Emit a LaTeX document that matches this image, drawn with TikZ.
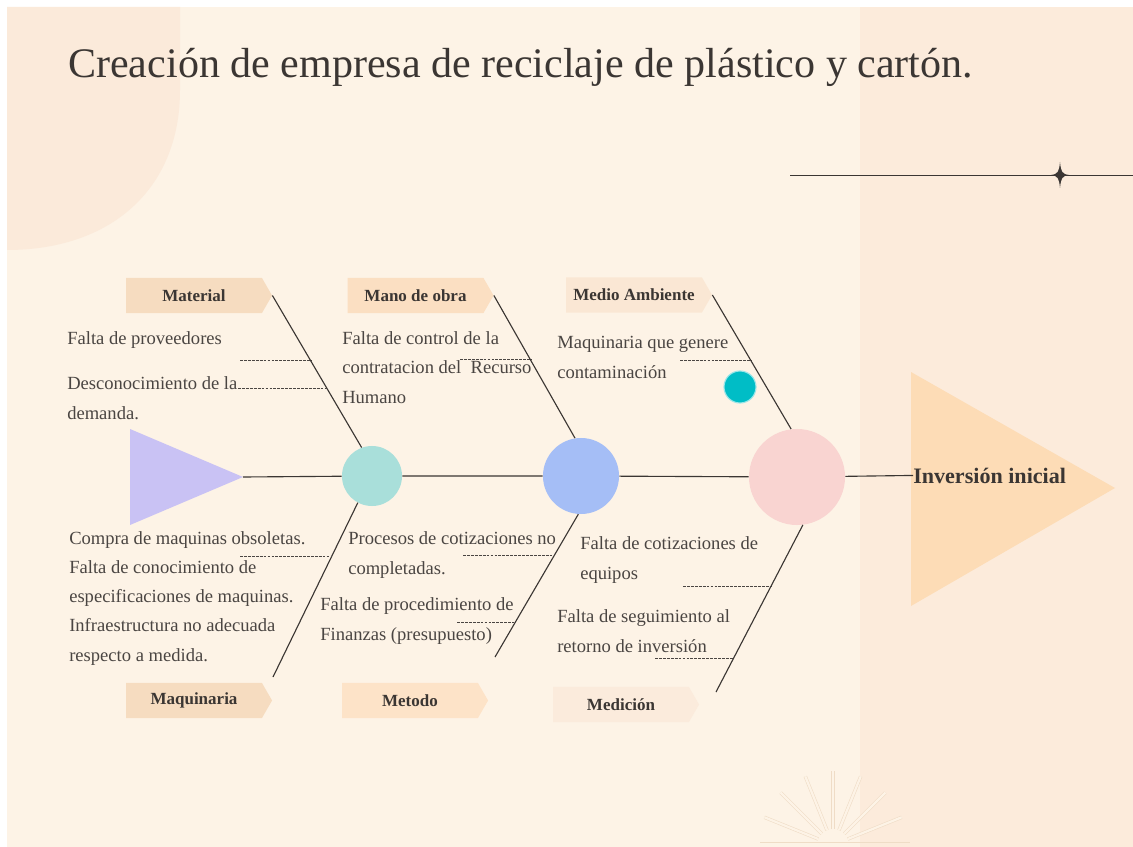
\documentclass[tikz,border=0pt]{standalone}
\usepackage{fontspec}
\setmainfont{Liberation Serif}
\usetikzlibrary{shapes.symbols}

\definecolor{fondo}{HTML}{FDF3E6}
\definecolor{panel}{HTML}{FCEBDB}
\definecolor{mancha}{HTML}{FBEADA}
\definecolor{tinta}{HTML}{3B3633}
\definecolor{gris}{HTML}{4A4542}
\definecolor{rayo}{HTML}{EFDCC6}
\definecolor{lila}{HTML}{C9C2F4}
\definecolor{durazno}{HTML}{FDDCB6}
\definecolor{menta}{HTML}{A9DFDA}
\definecolor{azul}{HTML}{A5BEF6}
\definecolor{rosa}{HTML}{F9D4D1}
\definecolor{turquesa}{HTML}{00BDC6}
\definecolor{arena}{HTML}{F6DCC0}
\definecolor{salmon}{HTML}{FBDFC2}
\definecolor{crema}{HTML}{FAE7D4}
\definecolor{melocoton}{HTML}{FDE3C8}
\definecolor{hueso}{HTML}{FBEBDC}

\begin{document}
\begin{tikzpicture}[x=0.025cm, y=-0.025cm,
		etiqueta/.style={shape=signal, signal to=east, signal pointer angle=120, fill=#1, minimum width=3.65cm, minimum height=0.875cm, inner sep=0pt, text=tinta, font=\fontsize{12.1}{14}\selectfont\bfseries},
		causa/.style={anchor=base west, inner sep=0pt, align=left, text=gris, font=\fontsize{13.2}{20.8}\selectfont},
		circulo/.style={circle, fill=#1, inner sep=0pt},
		espina/.style={draw=tinta, line width=0.8pt},
		guion/.style={draw=gris, line width=0.5pt, dash pattern=on 2pt off 0.8pt},
		rayo/.style={draw=rayo, line width=0.4pt, double=fondo, double distance=1.6pt}]

	\useasboundingbox (0,0) rectangle (1133,847);

	% fondo
	\fill[white] (0,0) rectangle (1133,847);
	\fill[fondo] (7,7) rectangle (1133,847);
	\fill[panel] (860,7) rectangle (1133,847);
	\fill[mancha] (7,7) -- (180,7) -- (180,90) .. controls (180,190) and (110,250) .. (7,250) -- cycle;

	% titulo
	\node[anchor=base west, inner sep=0pt, text=tinta, font=\fontsize{29.9}{36}\selectfont] (titulo) at (68,78) {Creación de empresa de reciclaje de plástico y cartón.};

	% linea con estrella
	\coordinate (estrella) at (1060,175);
	\draw[tinta, line width=0.6pt] (790,175) -- (1133,175);
	\fill[tinta] (1060,162) .. controls (1061,172) and (1062,174) .. (1069,175)
		.. controls (1062,176) and (1061,178) .. (1060,188)
		.. controls (1059,178) and (1058,176) .. (1051,175)
		.. controls (1058,174) and (1059,172) .. (1060,162) -- cycle;

	% rayos
	\coordinate (sol) at (833,845);
	\foreach \a in {22,45,68,90,112,135,158}
		\draw[rayo, shift={(sol)}] (-\a:16) -- (-\a:74);
	\draw[draw=rayo, line width=0.6pt] (760,842) -- (910,842);

	% cabeza y cola
	\fill[lila] (130,429) -- (130,525) -- (243,477) -- cycle;
	\fill[durazno] (911,372) -- (911,606) -- (1115,488) -- cycle;
	\coordinate (cola) at (243,477);

	% nodos
	\node[circulo=menta, minimum size=1.5cm] (c1) at (372,476) {};
	\node[circulo=azul, minimum size=1.9cm] (c2) at (581,476) {};
	\node[circulo=rosa, minimum size=2.4cm] (c3) at (797,477) {};
	\node[circle, fill=turquesa, draw=turquesa!40, line width=0.8pt, minimum size=0.8cm, inner sep=0pt] (punto) at (740,387) {};
	\node[anchor=base west, inner sep=0pt, text=tinta, font=\fontsize{15.7}{18}\selectfont\bfseries] (efecto) at (913,483) {Inversión inicial};

	% espina
	\draw[espina] (cola) -- (c1) (c1) -- (c2) (c2) -- (c3) (c3) -- (efecto.west);

	% etiquetas
	\node[etiqueta=arena] (material) at (194,295.5) {Material};
	\node[etiqueta=salmon] (mano) at (415.5,295.5) {Mano de obra};
	\node[etiqueta=crema] (medio) at (634,295) {Medio Ambiente};
	\node[etiqueta=arena] (maquinaria) at (194,700.5) {Maquinaria};
	\node[etiqueta=melocoton] (metodo) at (410,700.5) {Metodo};
	\node[etiqueta=hueso] (medicion) at (621,704.5) {Medición};

	% huesos
	\coordinate (pMaq) at (273,677);
	\coordinate (pMet) at (495,657);
	\coordinate (pMed) at (716,692);
	\draw[espina] (material.east) -- (c1.110);
	\draw[espina] (mano.east) -- (c2.99);
	\draw[espina] (medio.east) -- (c3.97);
	\draw[espina] (c1.242) -- (pMaq);
	\draw[espina] (c2.266) -- (pMet);
	\draw[espina] (c3.277) -- (pMed);

	% causas (base = ultima linea)
	\node[causa] (m1) at (67,345) {Falta de proveedores};
	\node[causa] (m2) at (67,419) {Desconocimiento de la\\demanda.};
	\node[causa] (o1) at (342,403) {Falta de control de la\\contratacion del\ \ Recurso\\Humano};
	\node[causa] (a1) at (557,378) {Maquinaria que genere\\contaminación};
	\node[causa] (q1) at (69,661) {Compra de maquinas obsoletas.\\Falta de conocimiento de\\especificaciones de maquinas.\\Infraestructura no adecuada\\respecto a medida.};
	\node[causa] (t1) at (348,574) {Procesos de cotizaciones no\\completadas.};
	\node[causa] (t2) at (320,640) {Falta de procedimiento de\\Finanzas (presupuesto)};
	\node[causa] (d1) at (580,579) {Falta de cotizaciones de\\equipos};
	\node[causa] (d2) at (557,652) {Falta de seguimiento al\\retorno de inversión};

	% guiones
	\draw[guion] (240,360) -- (311,360);
	\draw[guion] (238,388) -- (327,388);
	\draw[guion] (460,359) -- (531,359);
	\draw[guion] (680,360) -- (751,360);
	\draw[guion] (240,556) -- (332,556);
	\draw[guion] (463,555) -- (553,555);
	\draw[guion] (457,622) -- (514,622);
	\draw[guion] (683,586) -- (772,586);
	\draw[guion] (655,658) -- (733,658);
\end{tikzpicture}
\end{document}
